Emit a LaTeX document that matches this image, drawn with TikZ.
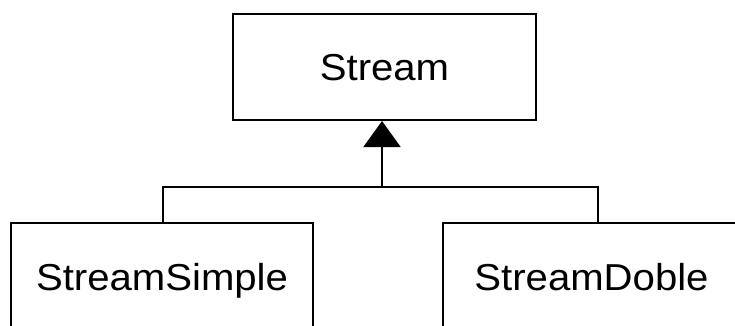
\documentclass[tikz,border=0pt]{standalone}
\usepackage{fontspec}
\setmainfont[FakeStretch=1.07]{Liberation Sans}
\usetikzlibrary{arrows.meta}
\begin{document}
\begin{tikzpicture}[x=1pt,y=-1pt,
  classbox/.style={draw, line width=2pt, fill=white, inner sep=0pt,
    font=\fontsize{37.5pt}{40pt}\selectfont, text height=27pt, text depth=0pt},
  link/.style={line width=2pt}]
  \useasboundingbox (0,0) rectangle (735,325);
  \clip (0,0) rectangle (735,325);
  \fill[white] (0,0) rectangle (735,325);

  % classes
  \node[classbox, minimum width=303pt, minimum height=106pt] (stream) at (384.5,67) {Stream};
  \node[classbox, minimum width=302pt, minimum height=107pt] (simple) at (162,276.5) {StreamSimple};
  \node[classbox, minimum width=297pt, minimum height=107pt] (doble) at (591.5,276.5) {StreamDoble};

  % inheritance tree
  \coordinate (junction) at (382,187);
  \draw[link] ([xshift=1pt]simple.north) |- (junction) -| ([xshift=6.5pt]doble.north);
  \draw[link, -{Triangle[width=37pt,length=26pt]}] (junction) -- (junction |- stream.south);
\end{tikzpicture}
\end{document}
